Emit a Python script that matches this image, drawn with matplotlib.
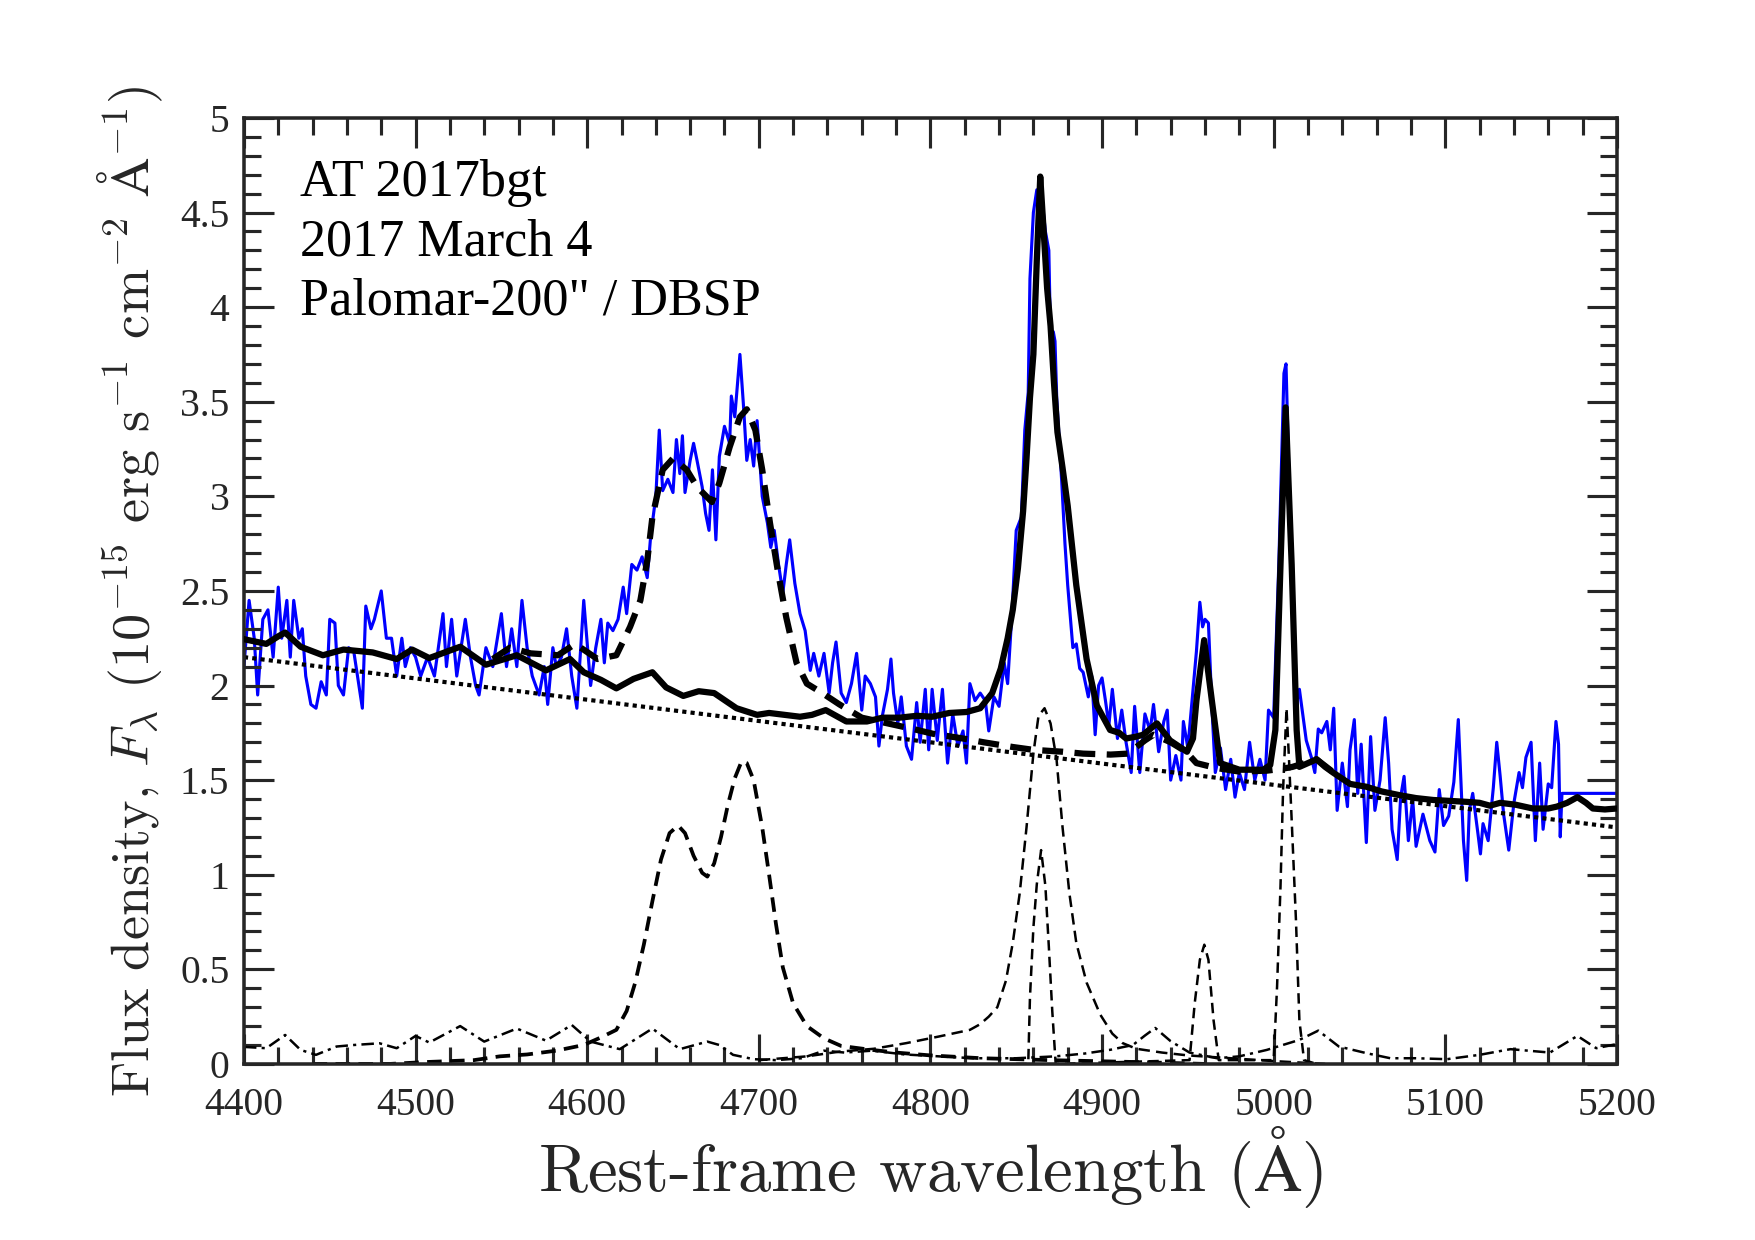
import numpy as np
import matplotlib
matplotlib.use('Agg')
import matplotlib.pyplot as plt
from matplotlib.ticker import MultipleLocator, FuncFormatter

obs_wl = [4400, 4403, 4406, 4408, 4411, 4414, 4417, 4420, 4422, 4425, 4427, 4429, 4432, 4434, 4436, 4439,
          4442, 4445, 4448, 4450, 4453, 4455, 4458, 4461, 4464, 4467, 4469, 4471, 4474, 4476, 4480, 4483,
          4486, 4489, 4492, 4494, 4497, 4500, 4503, 4507, 4511, 4516, 4518, 4521, 4524, 4529, 4532, 4535,
          4537, 4541, 4545, 4550, 4553, 4556, 4559, 4562, 4565, 4568, 4572, 4575, 4577, 4580, 4582, 4585,
          4588, 4591, 4594, 4598, 4602, 4605, 4608, 4610, 4612, 4615, 4618, 4621, 4623, 4626, 4629, 4632,
          4635, 4637, 4640, 4642, 4644, 4647, 4650, 4652, 4654, 4655.5, 4657, 4660, 4662, 4664, 4667, 4669,
          4671, 4673, 4675, 4677, 4680, 4683, 4684, 4686, 4689, 4691, 4693, 4695, 4697, 4699, 4702, 4705,
          4707, 4709, 4711.5, 4714, 4716, 4718, 4721, 4724, 4727, 4730, 4732, 4735, 4738, 4741, 4743, 4745,
          4748, 4751, 4754, 4757, 4760, 4762, 4765, 4768, 4770, 4772, 4775, 4777, 4778.5, 4781, 4783, 4786,
          4789, 4792, 4794, 4797, 4799, 4801, 4804, 4807, 4810, 4813, 4816, 4819, 4821, 4823, 4826, 4829,
          4832, 4834, 4837, 4840, 4843, 4845, 4847.5, 4850, 4853, 4855, 4857, 4858, 4860, 4862, 4865, 4867,
          4869, 4870, 4871.6, 4872.6, 4873.6, 4876.5, 4878.4, 4880, 4883, 4885, 4887, 4889, 4892, 4894, 4896, 4898,
          4900, 4902, 4904, 4906, 4909, 4911.5, 4914, 4917, 4919, 4922, 4925, 4928, 4930, 4933, 4936, 4938,
          4940, 4943, 4946, 4947.4, 4950, 4953, 4955, 4957, 4958.6, 4960, 4962, 4964, 4966, 4969, 4972, 4975,
          4977.5, 4980, 4983, 4986, 4989, 4992, 4995, 4997, 5000, 5003, 5006, 5007.2, 5009, 5011, 5012.5, 5015,
          5019, 5022, 5024, 5026, 5028, 5031, 5033, 5035, 5037, 5040, 5043, 5044.5, 5047, 5049, 5051, 5054,
          5056.5, 5059, 5062, 5065, 5067, 5069, 5072, 5074, 5076, 5078.5, 5081, 5083, 5087, 5091, 5094, 5096.5,
          5099, 5102, 5105, 5107.6, 5110.6, 5112.5, 5114, 5116, 5119, 5120.5, 5122, 5125, 5128, 5130, 5132, 5134,
          5137, 5140, 5143, 5145, 5147, 5150, 5152.5, 5155, 5157, 5160, 5162, 5164.5, 5166, 5167, 5168, 5200]
obs_flux = [2.10, 2.45, 2.25, 1.95, 2.35, 2.40, 2.15, 2.52, 2.25, 2.45, 2.15, 2.45, 2.25, 2.30, 2.05, 1.90,
            1.88, 2.02, 1.95, 2.35, 2.33, 2.00, 1.95, 2.20, 2.18, 2.00, 1.88, 2.42, 2.30, 2.35, 2.50, 2.25,
            2.25, 2.05, 2.25, 2.10, 2.20, 2.15, 2.05, 2.15, 2.05, 2.38, 2.10, 2.35, 2.05, 2.35, 2.15, 2.00,
            1.95, 2.20, 2.10, 2.38, 2.10, 2.30, 2.10, 2.45, 2.20, 2.05, 1.95, 2.10, 1.90, 2.20, 2.10, 2.15,
            2.30, 2.05, 1.88, 2.45, 2.00, 2.20, 2.35, 2.12, 2.33, 2.29, 2.35, 2.52, 2.38, 2.64, 2.61, 2.68,
            2.57, 2.79, 3.00, 3.35, 3.03, 3.09, 3.02, 3.30, 3.12, 3.32, 3.02, 3.19, 3.28, 3.19, 3.05, 2.91,
            2.82, 3.14, 2.77, 3.21, 3.37, 3.28, 3.53, 3.42, 3.75, 3.49, 3.19, 3.30, 3.16, 3.40, 3.00, 2.86,
            2.73, 2.82, 2.64, 2.49, 2.64, 2.77, 2.54, 2.38, 2.29, 2.08, 2.17, 2.05, 2.17, 1.96, 2.12, 2.23,
            1.96, 1.91, 2.01, 2.17, 1.87, 2.05, 2.01, 1.94, 1.68, 1.84, 1.98, 2.14, 1.96, 1.80, 1.94, 1.68,
            1.61, 1.91, 1.70, 1.98, 1.66, 1.98, 1.71, 1.98, 1.59, 1.85, 1.68, 1.76, 1.59, 2.01, 1.92, 1.96,
            1.92, 1.76, 1.94, 1.89, 2.12, 2.01, 2.38, 2.82, 2.89, 3.35, 3.55, 4.15, 4.50, 4.62, 4.57, 4.40,
            4.30, 3.84, 3.87, 3.82, 3.52, 3.08, 2.75, 2.53, 2.20, 2.22, 2.09, 2.07, 1.94, 2.05, 1.74, 2.00,
            2.04, 1.92, 1.79, 1.98, 1.72, 1.87, 1.70, 1.54, 1.89, 1.54, 1.85, 1.76, 1.90, 1.65, 1.81, 1.87,
            1.50, 1.63, 1.50, 1.81, 1.67, 1.98, 2.18, 2.44, 2.31, 2.35, 2.33, 1.89, 1.54, 1.67, 1.45, 1.61,
            1.41, 1.54, 1.45, 1.70, 1.50, 1.61, 1.50, 1.87, 1.83, 2.64, 3.65, 3.70, 3.08, 2.41, 1.87, 1.98,
            1.71, 1.62, 1.54, 1.77, 1.75, 1.81, 1.66, 1.88, 1.34, 1.59, 1.36, 1.66, 1.82, 1.43, 1.69, 1.17,
            1.73, 1.34, 1.50, 1.83, 1.59, 1.24, 1.08, 1.41, 1.52, 1.18, 1.40, 1.15, 1.32, 1.18, 1.12, 1.45,
            1.26, 1.31, 1.49, 1.82, 1.18, 0.97, 1.34, 1.43, 1.22, 1.11, 1.27, 1.18, 1.46, 1.70, 1.52, 1.32,
            1.13, 1.38, 1.54, 1.46, 1.62, 1.70, 1.18, 1.59, 1.24, 1.48, 1.46, 1.81, 1.69, 1.20, 1.43, 1.43]

# total model without He II (thick solid)
fit_wl = [4400, 4413, 4420, 4424, 4433, 4446, 4458, 4475, 4489, 4498, 4508, 4526, 4541, 4559, 4576, 4590,
          4598, 4608, 4617, 4627, 4638, 4646, 4656, 4665, 4674, 4687, 4699, 4706, 4724, 4731, 4739, 4751,
          4763, 4772, 4782, 4792, 4801, 4811, 4821, 4829, 4836, 4841, 4845, 4848, 4851, 4854, 4856, 4858,
          4860, 4862, 4864, 4866, 4868, 4870, 4872, 4874, 4877, 4880, 4885, 4891, 4897, 4904.7, 4910, 4914,
          4920, 4924, 4932, 4939.6, 4949.5, 4953, 4955, 4959.5, 4964, 4968.8, 4980, 4994, 4998, 5001, 5004, 5007,
          5010.5, 5013.4, 5015, 5020, 5025, 5030, 5034.6, 5044.5, 5054, 5063, 5073.6, 5083, 5093, 5103, 5112.7, 5120,
          5126, 5132, 5141, 5151, 5160, 5165, 5171, 5177, 5182, 5186, 5193, 5200]
fit_flux = [2.245, 2.22, 2.26, 2.28, 2.205, 2.16, 2.19, 2.175, 2.14, 2.19, 2.145, 2.205, 2.11, 2.16, 2.08, 2.14,
            2.07, 2.03, 1.985, 2.035, 2.07, 1.99, 1.945, 1.97, 1.96, 1.88, 1.845, 1.855, 1.835, 1.845, 1.87, 1.81,
            1.81, 1.83, 1.83, 1.84, 1.835, 1.855, 1.86, 1.88, 1.96, 2.09, 2.25, 2.40, 2.62, 2.92, 3.20, 3.52,
            3.75, 4.25, 4.69, 4.40, 4.10, 3.90, 3.60, 3.34, 3.15, 2.95, 2.53, 2.14, 1.894, 1.765, 1.75, 1.72,
            1.73, 1.74, 1.80, 1.71, 1.65, 1.72, 1.92, 2.24, 1.92, 1.59, 1.555, 1.555, 1.58, 1.765, 2.64, 3.47,
            2.64, 1.765, 1.57, 1.59, 1.61, 1.57, 1.54, 1.48, 1.465, 1.44, 1.42, 1.405, 1.395, 1.39, 1.385, 1.38,
            1.365, 1.38, 1.37, 1.35, 1.35, 1.36, 1.38, 1.41, 1.38, 1.35, 1.345, 1.35]

# model with He II / Bowen blend (thick dashed)
heii_tot_wl = [4545, 4555, 4567, 4583, 4593, 4606, 4617, 4625, 4631, 4635, 4638, 4644, 4650, 4658, 4664, 4672.7,
               4677, 4683, 4689, 4693, 4698, 4702, 4706.5, 4711, 4716, 4722, 4728, 4737, 4747, 4760, 4775, 4790,
               4801.5, 4819, 4831, 4848, 4860, 4877, 4889, 4905, 4915, 4925, 4930, 4940, 4949, 4955, 4966, 4980,
               4996, 5005, 5011, 5025, 5035]
heii_tot_flux = [2.14, 2.20, 2.17, 2.16, 2.22, 2.14, 2.16, 2.31, 2.45, 2.66, 2.89, 3.14, 3.20, 3.14, 3.05, 2.97,
                 3.07, 3.26, 3.42, 3.46, 3.35, 3.14, 2.86, 2.61, 2.36, 2.12, 2.01, 1.96, 1.90, 1.83, 1.80, 1.77,
                 1.745, 1.72, 1.70, 1.675, 1.66, 1.65, 1.64, 1.635, 1.64, 1.71, 1.74, 1.70, 1.65, 1.59, 1.565, 1.545,
                 1.55, 1.56, 1.57, 1.61, 1.54]

# power-law continuum (dotted)
cont_wl = [4400, 4800, 5200]
cont_flux = [2.15, 1.70, 1.25]

# broad He II + Bowen component (dashed)
heii_wl = [4440, 4485, 4506, 4534, 4549, 4565, 4582, 4598, 4608, 4617, 4623, 4628, 4633, 4638, 4643, 4648,
           4653, 4657, 4662, 4667, 4670, 4674, 4678, 4682, 4686, 4690, 4693, 4697, 4702, 4706, 4710, 4714,
           4720, 4728, 4738, 4748, 4765, 4780, 4800, 4830, 4870, 4920, 4960]
heii_flux = [0.0, 0.0, 0.01, 0.02, 0.04, 0.05, 0.07, 0.10, 0.14, 0.18, 0.28, 0.43, 0.63, 0.86, 1.08, 1.22,
             1.26, 1.22, 1.10, 1.01, 0.99, 1.06, 1.20, 1.37, 1.51, 1.60, 1.59, 1.50, 1.25, 1.00, 0.74, 0.51,
             0.32, 0.20, 0.135, 0.095, 0.075, 0.06, 0.045, 0.03, 0.02, 0.01, 0.0]

# broad H-beta (thin dashed)
hb_broad_wl = [4700, 4728, 4747, 4767, 4786, 4805, 4823, 4829, 4834, 4839, 4844, 4848, 4852, 4856, 4860, 4863,
               4866.5, 4870, 4873.5, 4877, 4881, 4885, 4891, 4899, 4906, 4912, 4920, 4935, 4950, 4975, 5000, 5030]
hb_broad_flux = [0.02, 0.04, 0.065, 0.08, 0.11, 0.145, 0.18, 0.21, 0.25, 0.30, 0.44, 0.64, 0.90, 1.25, 1.64, 1.84,
                 1.88, 1.80, 1.61, 1.25, 0.90, 0.64, 0.43, 0.26, 0.16, 0.11, 0.08, 0.06, 0.045, 0.03, 0.015, 0.0]

# narrow H-beta and [O III] 4959, 5007 (thin dashed)
narrow_wl = [4850, 4857, 4858, 4860, 4862, 4864.5, 4867, 4869, 4871, 4873,
             4951, 4954, 4957, 4959.6, 4962, 4965, 4968,
             5000, 5002, 5004, 5005.5, 5007.5, 5009, 5010.5, 5013, 5015, 5017.7, 5025]
narrow_flux = [0.0, 0.0, 0.35, 0.72, 0.95, 1.13, 0.94, 0.62, 0.28, 0.0,
               0.02, 0.32, 0.55, 0.63, 0.55, 0.23, 0.02,
               0.02, 0.41, 0.94, 1.45, 1.88, 1.60, 1.29, 0.76, 0.23, 0.02, 0.0]

# Fe II / residual template (dash-dot)
feii_wl = [4400, 4413, 4424, 4433, 4442, 4454, 4464, 4479, 4489, 4500, 4508, 4526, 4540, 4559, 4576, 4591,
           4602, 4619, 4638, 4654, 4670, 4677, 4685, 4697, 4710, 4725, 4738, 4750, 4766, 4785, 4805, 4825,
           4850, 4873, 4890, 4905, 4918, 4925, 4931, 4940, 4951, 4967, 4980, 4996, 5015, 5026, 5038, 5054,
           5068, 5083, 5101, 5120, 5138, 5161, 5177, 5188, 5200]
feii_flux = [0.09, 0.083, 0.153, 0.074, 0.048, 0.092, 0.10, 0.109, 0.083, 0.148, 0.113, 0.20, 0.118, 0.187, 0.123, 0.206,
             0.118, 0.078, 0.187, 0.078, 0.118, 0.10, 0.048, 0.025, 0.02, 0.03, 0.07, 0.06, 0.07, 0.05, 0.04, 0.03,
             0.03, 0.04, 0.055, 0.075, 0.10, 0.15, 0.19, 0.12, 0.06, 0.03, 0.04, 0.074, 0.127, 0.176, 0.092, 0.057,
             0.03, 0.03, 0.025, 0.048, 0.078, 0.06, 0.148, 0.083, 0.105]

xticks = [4400, 4500, 4600, 4700, 4800, 4900, 5000, 5100, 5200]
yticks = [0, 0.5, 1, 1.5, 2, 2.5, 3, 3.5, 4, 4.5, 5]
info = ['AT 2017bgt', '2017 March 4', 'Palomar-200" / DBSP']

plt.rcParams['font.family'] = ['Liberation Serif', 'DejaVu Serif']
plt.rcParams['mathtext.fontset'] = 'cm'
plt.rcParams['lines.scale_dashes'] = False

fig = plt.figure(figsize=(11.7, 8.2667), dpi=150)
ax = fig.add_axes([0.139, 0.142, 0.7823, 0.7629])

ax.plot(obs_wl, obs_flux, color='#0000ff', lw=1.5, zorder=1)
ax.plot(cont_wl, cont_flux, color='k', lw=2.0, dashes=(2.0, 2.0), zorder=2)
ax.plot(feii_wl, feii_flux, color='k', lw=1.2, dashes=(6, 2.5, 1.5, 2.5), zorder=2)
ax.plot(narrow_wl, narrow_flux, color='k', lw=1.2, dashes=(5, 3), zorder=2)
ax.plot(hb_broad_wl, hb_broad_flux, color='k', lw=1.2, dashes=(5.5, 3), zorder=2)
ax.plot(heii_wl, heii_flux, color='k', lw=1.8, dashes=(7, 4), zorder=2)
ax.plot(heii_tot_wl, heii_tot_flux, color='k', lw=3.0, dashes=(10, 5.5), zorder=3)
ax.plot(fit_wl, fit_flux, color='k', lw=3.0, zorder=4)

ax.set_xlim(4400, 5200)
ax.set_ylim(0, 5)
ax.set_xticks(xticks)
ax.set_yticks(yticks)
ax.xaxis.set_minor_locator(MultipleLocator(20))
ax.yaxis.set_minor_locator(MultipleLocator(0.1))
ax.yaxis.set_major_formatter(FuncFormatter(lambda v, p: '%g' % v))
ax.tick_params(which='both', direction='in', top=True, right=True, width=1.5, color='#262626',
               labelsize=19, labelcolor='#262626')
ax.tick_params(which='major', length=14.5)
ax.tick_params(axis='x', which='major', pad=11)
ax.tick_params(axis='y', which='major', pad=7)
ax.tick_params(which='minor', length=8)
for s in ax.spines.values():
    s.set_linewidth(1.7)
    s.set_color('#262626')

ax.set_xlabel(r'Rest-frame wavelength ($\mathrm{\AA}$)', family='cmr10', fontsize=32,
              color='#262626', labelpad=0)
ax.set_ylabel(r'Flux density, $F_\lambda$ ($10^{-15}$ erg s$^{-1}$ cm$^{-2}$ $\mathrm{\AA}^{-1}$)',
              family='cmr10', fontsize=26, color='#262626', labelpad=7)

for i, line in enumerate(info):
    ax.text(0.041, 0.9175 - 0.0625 * i, line, transform=ax.transAxes, fontsize=25, va='baseline')

fig.savefig('out.png', dpi=150)
